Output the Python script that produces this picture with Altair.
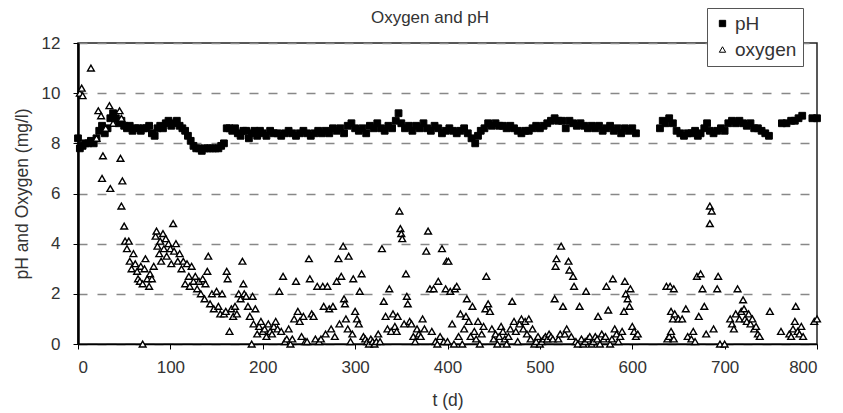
import altair as alt
import pandas as pd

# ---------------- data ----------------
title_text = "Oxygen and pH"

ph_days = [0, 2, 5, 8, 11, 14, 17, 20, 23, 26, 29, 32, 35, 38, 41, 44, 47, 50, 53, 56,
           59, 62, 65, 68, 71, 74, 77, 80, 83, 86, 89, 92, 95, 98, 101, 104, 107, 110, 113, 116,
           119, 122, 125, 128, 131, 134, 137, 140, 143, 146, 149, 152, 155, 158, 161, 164, 167, 170, 173, 176,
           179, 182, 185, 188, 191, 194, 197, 200, 204, 208, 212, 216, 220, 224, 228, 232, 236, 240, 244, 248,
           252, 256, 260, 264, 268, 272, 276, 280, 284, 288, 292, 296, 300, 304, 308, 312, 316, 320, 324, 328,
           332, 336, 340, 344, 347, 350, 354, 358, 362, 366, 370, 374, 378, 382, 386, 390, 394, 398, 402, 406,
           410, 414, 418, 422, 426, 430, 433, 436, 440, 444, 448, 452, 456, 460, 464, 468, 472, 476, 480, 484,
           488, 492, 496, 500, 504, 508, 512, 516, 520, 524, 528, 532, 536, 540, 544, 548, 552, 556, 560, 564,
           568, 572, 576, 580, 584, 588, 592, 596, 600, 604,
           630, 633, 636, 640, 644, 648, 652, 656, 660, 664, 668, 671, 674, 678, 681, 684, 688, 692, 696, 700,
           704, 708, 712, 716, 720, 724, 728, 732, 736, 740, 744, 748,
           762, 767, 772, 776, 780, 784, 795, 800]
ph_vals = [8.2, 7.8, 7.9, 8.0, 8.0, 8.1, 8.0, 8.2, 8.5, 8.7, 8.4, 8.6, 9.0, 9.2, 9.0, 8.8, 8.9, 8.7, 8.6, 8.7,
           8.5, 8.6, 8.6, 8.5, 8.6, 8.6, 8.7, 8.4, 8.3, 8.6, 8.7, 8.6, 8.8, 8.9, 8.7, 8.8, 8.9, 8.7, 8.6, 8.5,
           8.3, 8.1, 7.9, 7.8, 7.8, 7.7, 7.8, 7.8, 7.8, 7.8, 7.8, 7.8, 7.9, 8.0, 8.6, 8.6, 8.5, 8.6, 8.4, 8.3,
           8.5, 8.5, 8.2, 8.4, 8.5, 8.3, 8.5, 8.4, 8.3, 8.5, 8.4, 8.4, 8.3, 8.4, 8.5, 8.4, 8.3, 8.4, 8.5, 8.4,
           8.3, 8.4, 8.5, 8.4, 8.5, 8.4, 8.6, 8.5, 8.6, 8.4, 8.7, 8.8, 8.6, 8.5, 8.6, 8.4, 8.7, 8.6, 8.8, 8.6,
           8.5, 8.7, 8.6, 8.9, 9.2, 8.8, 8.6, 8.7, 8.5, 8.7, 8.6, 8.8, 8.6, 8.5, 8.7, 8.6, 8.4, 8.5, 8.6, 8.5,
           8.4, 8.5, 8.6, 8.4, 8.2, 8.0, 8.3, 8.5, 8.6, 8.8, 8.7, 8.8, 8.7, 8.7, 8.6, 8.7, 8.6, 8.5, 8.4, 8.5,
           8.5, 8.6, 8.7, 8.6, 8.7, 8.8, 8.9, 9.0, 8.9, 8.9, 8.6, 8.9, 8.8, 8.7, 8.8, 8.7, 8.6, 8.7, 8.6, 8.7,
           8.5, 8.6, 8.7, 8.5, 8.6, 8.4, 8.6, 8.5, 8.6, 8.4,
           8.6, 8.9, 8.8, 9.0, 8.8, 8.5, 8.4, 8.3, 8.4, 8.4, 8.5, 8.3, 8.4, 8.6, 8.8, 8.5, 8.4, 8.5, 8.6, 8.5,
           8.8, 8.9, 8.8, 8.9, 8.8, 8.7, 8.8, 8.6, 8.6, 8.5, 8.4, 8.3,
           8.8, 8.8, 8.9, 8.9, 9.0, 9.1, 9.0, 9.0]

ox_days = [2, 4, 5, 14, 20, 22, 25, 26, 27, 30, 34, 35, 38, 45, 46, 47, 47, 48, 50, 51,
           53, 55, 56, 58, 60, 62, 64, 65, 67, 68, 70, 70, 72, 73, 75, 77, 78, 80, 82, 84,
           85, 86, 88, 89, 90, 92, 93, 95, 96, 98, 100, 101, 103, 104, 106, 108, 110, 112, 114, 116,
           118, 120, 121, 123, 125, 127, 129, 131, 133, 135, 137, 138, 140, 141, 143, 145, 147, 150, 152, 154,
           156, 158, 160, 161, 162, 164, 166, 168, 170, 172, 174, 176, 178, 179, 180, 182, 184, 186, 188, 189,
           190, 192, 194, 196, 198, 200, 202, 204, 206, 208, 210, 212, 214, 216, 218, 220, 222, 224, 226, 228,
           230, 232, 234, 236, 238, 240, 242, 244, 246, 248, 250, 251, 253, 255, 257, 259, 261, 263, 265, 266,
           268, 270, 272, 274, 276, 278, 280, 282, 283, 285, 287, 288, 289, 290, 292, 293, 295, 297, 298, 300,
           302, 304, 305, 307, 309, 311, 313, 315, 317, 319, 321, 323, 325, 327, 329, 331, 333, 335, 337, 339,
           341, 343, 345, 346, 348, 349, 350, 351, 353, 355, 356, 357, 359, 361, 363, 365, 367, 369, 371, 373,
           375, 377, 379, 381, 383, 385, 387, 389, 390, 392, 394, 396, 398, 399, 400, 401, 403, 405, 407, 408,
           410, 412, 414, 416, 418, 420, 421, 423, 425, 427, 429, 431, 433, 435, 437, 439, 441, 442, 444, 446,
           448, 450, 452, 454, 456, 458, 460, 462, 464, 466, 468, 470, 472, 474, 476, 478, 480, 482, 484, 486,
           488, 490, 492, 494, 496, 498, 500, 502, 504, 506, 508, 510, 512, 514, 516, 517, 518, 520, 522, 523,
           525, 527, 529, 531, 532, 534, 536, 537, 539, 541, 543, 545, 547, 549, 550, 552, 554, 556, 558, 560,
           562, 563, 565, 567, 569, 571, 572, 574, 576, 578, 579, 581, 583, 585, 587, 589, 591, 592, 593, 595,
           597, 598, 600, 602, 604, 606,
           637, 638, 640, 641, 642, 642, 644, 645, 645, 646, 650, 654, 658, 660, 664, 666, 668, 670, 672, 674,
           676, 678, 680, 684, 684, 686, 688, 692, 693, 695, 700, 706, 708, 710, 712, 714, 716, 718, 720, 721,
           722, 724, 726, 728, 730, 732, 734, 736, 738, 749, 761, 770, 772, 774, 776, 777, 779, 781, 783, 785,
           797, 800]
ox_vals = [10.0, 10.2, 9.9, 11.0, 8.2, 9.3, 9.1, 6.6, 7.5, 8.6, 9.5, 6.2, 8.8, 9.3, 7.4, 9.0, 5.5, 6.5, 4.7, 4.1,
           3.8, 4.1, 3.3, 3.0, 3.6, 3.2, 2.9, 2.6, 2.5, 3.1, 0.0, 2.4, 3.0, 3.4, 2.6, 2.3, 2.8, 2.6, 3.1, 4.3,
           4.5, 3.9, 3.6, 4.1, 3.3, 4.4, 3.8, 4.2, 3.5, 4.0, 3.8, 3.2, 4.8, 3.7, 4.0, 3.3, 3.6, 3.0, 3.3, 2.4,
           3.2, 2.7, 2.3, 3.1, 2.5, 2.7, 2.2, 2.5, 2.0, 2.6, 1.8, 2.4, 2.9, 3.5, 1.6, 2.0, 1.4, 2.1, 1.5, 1.2,
           2.0, 1.2, 1.3, 2.9, 2.6, 0.5, 1.4, 1.1, 1.5, 1.2, 2.0, 1.8, 3.3, 2.4, 2.0, 1.9, 1.5, 1.1, 0.0, 1.9,
           0.8, 1.4, 0.4, 0.7, 0.9, 0.5, 0.6, 0.3, 0.8, 0.5, 0.4, 0.7, 0.9, 0.6, 2.1, 0.5, 2.7, 0.1, 0.2, 0.6,
           0.0, 0.2, 1.0, 2.5, 1.3, 0.9, 0.3, 1.1, 0.1, 0.1, 3.4, 2.6, 1.2, 1.1, 0.2, 2.3, 0.1, 0.2, 2.3, 1.5,
           0.4, 2.3, 1.4, 0.6, 1.5, 0.3, 2.5, 3.4, 0.8, 2.7, 3.9, 1.8, 1.6, 1.0, 0.6, 3.5, 0.1, 0.4, 2.6, 1.3,
           1.0, 0.8, 2.1, 2.8, 0.3, 0.2, 0.1, 0.0, 0.2, 0.1, 0.0, 0.1, 0.4, 0.1, 3.8, 1.7, 1.1, 0.6, 2.2, 0.5,
           1.2, 0.7, 0.5, 1.1, 5.3, 4.6, 4.4, 4.2, 0.8, 2.8, 1.9, 1.6, 0.9, 0.8, 0.3, 0.1, 0.6, 0.4, 0.3, 1.0,
           0.6, 3.7, 4.5, 2.2, 0.5, 2.2, 0.1, 0.0, 2.5, 0.3, 3.8, 0.1, 2.2, 3.3, 0.1, 3.3, 2.1, 0.8, 0.0, 2.2,
           2.3, 0.3, 1.2, 0.0, 0.6, 1.1, 1.8, 0.9, 0.3, 1.5, 0.5, 0.2, 0.9, 0.0, 0.4, 0.7, 1.4, 2.7, 1.6, 1.3,
           0.6, 0.2, 0.4, 0.0, 0.3, 0.7, 0.5, 0.2, 0.0, 0.3, 0.6, 1.7, 0.9, 0.5, 0.1, 0.8, 1.0, 0.6, 0.9, 0.4,
           1.0, 0.2, 0.6, 0.0, 0.1, 0.3, 0.0, 0.1, 0.2, 0.3, 0.2, 0.4, 0.3, 0.2, 1.8, 3.1, 3.4, 0.2, 0.4, 3.9,
           1.5, 0.4, 0.6, 3.3, 2.95, 0.3, 2.7, 2.3, 0.1, 0.0, 1.5, 0.2, 0.0, 0.1, 2.1, 0.2, 0.3, 0.0, 0.1, 0.3,
           0.2, 1.1, 0.0, 0.4, 0.2, 0.3, 2.3, 1.35, 0.0, 0.2, 2.6, 0.6, 0.4, 0.1, 0.3, 0.5, 1.3, 2.5, 2.0, 1.8,
           1.5, 2.2, 0.7, 0.5, 0.3, 0.4,
           2.3, 0.2, 0.3, 2.3, 1.3, 0.5, 1.0, 2.2, 0.2, 1.2, 1.0, 1.0, 1.4, 0.3, 0.2, 0.5, 0.1, 2.7, 1.1, 2.8,
           2.2, 1.5, 0.4, 5.5, 4.8, 5.3, 0.6, 2.2, 2.7, 0.0, 0.0, 1.0, 0.8, 0.6, 1.2, 2.2, 1.0, 1.3, 1.76, 1.4,
           1.0, 0.9, 1.2, 0.8, 1.0, 0.6, 0.7, 0.4, 0.3, 1.3, 0.5, 0.4, 0.3, 0.6, 0.9, 1.5, 0.5, 0.4, 0.7, 0.3,
           0.9, 1.0]

series_names = ["pH", "oxygen"]
x_ticks = [0, 100, 200, 300, 400, 500, 600, 700, 800]
y_ticks = [0, 2, 4, 6, 8, 10, 12]

df = pd.concat([
    pd.DataFrame({"t": ph_days, "v": ph_vals, "series": "pH"}),
    pd.DataFrame({"t": ox_days, "v": ox_vals, "series": "oxygen"}),
], ignore_index=True)

FONT = "Liberation Sans"
TXT = "#333333"

leg = alt.Legend(
    title=None, orient="none", legendX=629, legendY=-35,
    padding=6, rowPadding=6, fillColor="white", strokeColor="#555555",
    labelFontSize=19, labelColor=TXT, labelFont=FONT, labelOffset=3,
    symbolSize=40, symbolStrokeColor="black", symbolStrokeWidth=1,
)

base = alt.Chart(df).encode(
    x=alt.X("t:Q", scale=alt.Scale(domain=[0, 800], nice=False),
            axis=alt.Axis(values=x_ticks, title="t (d)", grid=False, format="d",
                          titleY=56, titleBaseline="middle")),
    y=alt.Y("v:Q", scale=alt.Scale(domain=[0, 12], nice=False),
            axis=alt.Axis(values=y_ticks, title="pH and Oxygen (mg/l)", grid=True,
                          gridDash=[9, 10], gridColor="#888888", gridWidth=1.3,
                          domainWidth=2.5, titleX=-56, titleBaseline="middle")),
    shape=alt.Shape("series:N", scale=alt.Scale(domain=series_names, range=["square", "triangle-up"]), legend=leg),
    fill=alt.Fill("series:N", scale=alt.Scale(domain=series_names, range=["black", "white"]), legend=leg),
    stroke=alt.Stroke("series:N", scale=alt.Scale(domain=series_names, range=["black", "black"]), legend=leg),
)

ph_layer = base.transform_filter(alt.datum.series == "pH").mark_point(
    filled=True, size=46, strokeWidth=1, opacity=1)
ox_layer = base.transform_filter(alt.datum.series == "oxygen").mark_point(
    filled=True, size=46, strokeWidth=1.4, opacity=1)

# chart title drawn as a text mark above the plot (the legend sits above the plot too)
title_layer = alt.Chart(pd.DataFrame({"label": [title_text]})).mark_text(
    font=FONT, fontSize=17, color=TXT, align="center", baseline="middle"
).encode(text="label:N", x=alt.value(352), y=alt.value(-25))

chart = alt.layer(ph_layer, ox_layer, title_layer).properties(
    width=739, height=301,
    autosize=alt.AutoSizeParams(type="none"),
    padding={"left": 70, "top": 35, "right": 18, "bottom": 68},
).configure_view(
    stroke="#222222", strokeWidth=1.5
).configure_axis(
    labelFont=FONT, labelFontSize=17, labelColor=TXT,
    titleFont=FONT, titleFontSize=17.5, titleColor=TXT, titleFontWeight="normal",
    domainColor="black", tickColor="black", tickSize=5,
)
chart = chart.configure_axisX(labelPadding=10, domainWidth=1.5)
chart = chart.configure_axisY(labelPadding=13)

chart.save("out.html", embed_options={"renderer": "svg", "actions": False})
